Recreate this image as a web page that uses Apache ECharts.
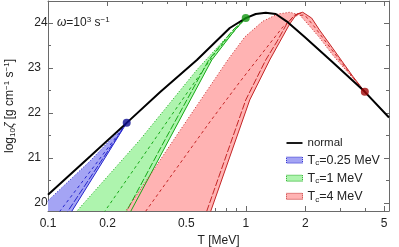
<!DOCTYPE html>
<html><head><meta charset="utf-8">
<script src="https://cdn.jsdelivr.net/npm/echarts@6/dist/echarts.min.js"></script>
<style>html,body{margin:0;padding:0;background:#fff}#c{width:399px;height:247px}</style>
</head><body><div id="c"></div>
<script>
// ---------- axes ----------
const xMin = 0.1, xMax = 5.3;
const yMin = 19.82, yMax = 24.49;
const xLabelTicks = [0.1, 0.2, 0.5, 1, 2, 5];
const xMinorTicks = [0.3, 0.4, 0.6, 0.7, 0.8, 0.9, 3, 4];
const yLabelTicks = [20, 21, 22, 23, 24];
const yMinorTicks = [20.5, 21.5, 22.5, 23.5];

// ---------- normal curve ----------
const normalT = [0.1, 0.163, 0.25, 0.368, 0.566, 0.83, 1.0, 1.123, 1.262, 1.418, 1.63, 1.986, 2.751, 4.0, 5.3];
const normalY = [20.18, 21.03, 21.78, 22.46, 23.18, 23.89, 24.11, 24.20, 24.23, 24.20, 24.02, 23.69, 23.13, 22.47, 21.90];

// ---------- Tc = 0.25 MeV ----------
const blueAT = [0.0911, 0.1, 0.163, 0.25];
const blueAY = [19.87, 20.05, 20.93, 21.78];
const blueBT = [0.1219, 0.1322, 0.1831, 0.25];
const blueBY = [19.58, 19.82, 20.82, 21.78];
const blueMidT = [0.1097, 0.115, 0.1728, 0.25];
const blueMidY = [19.69, 19.82, 20.84, 21.78];
const blueB2T = [0.1205, 0.1262, 0.1831, 0.25];
const blueB2Y = [19.69, 19.82, 20.89, 21.78];

// ---------- Tc = 1 MeV ----------
const greenAT = [0.1292, 0.1401, 0.2914, 0.566, 0.83, 1.0];
const greenAY = [19.63, 19.82, 21.40, 22.96, 23.76, 24.11];
const greenBT = [0.25, 0.2626, 0.4131, 0.6734, 0.8798, 1.0];
const greenBY = [19.62, 19.82, 21.44, 23.18, 23.84, 24.11];
const greenMidT = [0.1831, 0.1941, 0.4229, 0.7056, 1.0];
const greenMidY = [19.67, 19.82, 21.96, 23.36, 24.11];
const greenB2T = [0.242, 0.25, 0.3945, 0.6503, 0.8597, 1.0];
const greenB2Y = [19.69, 19.82, 21.44, 23.18, 23.84, 24.11];

// ---------- Tc = 4 MeV ----------
const redAT = [0.231, 0.2477, 0.4378, 0.8111, 0.9884, 1.219, 1.451, 1.668, 1.874, 2.105, 2.364, 2.751, 3.47, 4.0];
const redAY = [19.62, 19.82, 21.44, 23.18, 23.69, 24.04, 24.20, 24.24, 24.18, 23.93, 23.67, 23.29, 22.78, 22.47];
const redBT = [0.6427, 0.6656, 1.0476, 1.322, 1.485, 1.668, 1.81, 1.941, 2.154, 2.364, 2.751, 3.47, 4.0];
const redBY = [19.62, 19.82, 22.29, 23.18, 23.58, 23.98, 24.20, 24.24, 24.11, 23.84, 23.44, 22.82, 22.47];
const redMidT = [0.3018, 0.3125, 0.6579, 0.9326, 1.247, 1.538, 1.768, 1.986, 2.231, 2.751, 3.47, 4.0];
const redMidY = [19.69, 19.82, 21.80, 22.69, 23.40, 23.91, 24.16, 24.18, 23.91, 23.38, 22.80, 22.47];
const redB2T = [0.6136, 0.6353, 1.0, 1.262, 1.434, 1.611, 1.768, 1.941];
const redB2Y = [19.62, 19.82, 22.29, 23.18, 23.58, 23.98, 24.18, 24.23];

// ---------- matching points ----------
const dotT = [0.25, 1.0, 4.0];
const dotY = [21.78, 24.11, 22.47];

const names = ['normal', 'Tc=0.25 MeV', 'Tc=1 MeV', 'Tc=4 MeV'];
const FONT = 'Liberation Sans';
const AX = '#6a6a6a';
const TXT = '#222';
const C = {
  blue: {fill: '#a4a4f4', line: '#2626cc', dot: '#0c0c92'},
  green: {fill: '#aef4ae', line: '#17a817', dot: '#129612'},
  red: {fill: '#ffb3b3', line: '#c42626', dot: '#a00808'}
};

const pairs = (T, Y) => T.map((t, i) => [t, Y[i]]);

function band(name, AT, AY, BT, BY, fill) {
  const pts = pairs(AT, AY).concat(pairs(BT, BY).reverse());
  return {
    type: 'custom', name, clip: true, z: 1, silent: true,
    data: pts, encode: {x: 0, y: 1},
    itemStyle: {color: fill},
    renderItem(params, api) {
      if (params.dataIndex !== 0) return null;
      return {type: 'polygon', shape: {points: pts.map(p => api.coord(p))}, style: {fill: fill}};
    }
  };
}
function line(name, T, Y, color, type, width, z) {
  return {
    type: 'line', name, data: pairs(T, Y), symbol: 'none', showSymbol: false, silent: true,
    z: z || 2, lineStyle: {color, width: width || 1, type: type || 'solid'}, itemStyle: {color}, clip: true
  };
}

const series = [
  band(names[1], blueAT, blueAY, blueBT, blueBY, C.blue.fill),
  band(names[2], greenAT, greenAY, greenBT, greenBY, C.green.fill),
  band(names[3], redAT, redAY, redBT, redBY, C.red.fill),
  line('bA', blueAT, blueAY, C.blue.line, [1, 2]),
  line('bM', blueMidT, blueMidY, C.blue.line, [3, 3]),
  line('bB2', blueB2T, blueB2Y, C.blue.line, [7, 2]),
  line('bB', blueBT, blueBY, C.blue.line),
  line('gA', greenAT, greenAY, C.green.line, [1, 2]),
  line('gM', greenMidT, greenMidY, C.green.line, [3, 3]),
  line('gB2', greenB2T, greenB2Y, C.green.line, [7, 2]),
  line('gB', greenBT, greenBY, C.green.line),
  line('rA', redAT, redAY, C.red.line, [1, 2]),
  line('rM', redMidT, redMidY, C.red.line, [3, 3]),
  line('rB2', redB2T, redB2Y, C.red.line, [7, 2]),
  line('rB', redBT, redBY, C.red.line),
  line(names[0], normalT, normalY, '#000', 'solid', 2, 3),
  {
    type: 'scatter', name: 'dots', z: 4, silent: true, symbolSize: 8,
    data: dotT.map((t, i) => ({value: [t, dotY[i]], itemStyle: {color: [C.blue.dot, C.green.dot, C.red.dot][i]}}))
  }
];

const fmtX = v => String(+(+v).toPrecision(4));
const common = {splitLine: {show: false}, minorTick: {show: false}, minorSplitLine: {show: false}};
function xAx(pos, ticks, len, labels, lineOn) {
  return Object.assign({
    type: 'log', logBase: 10, min: xMin, max: xMax, position: pos,
    axisLine: {show: lineOn, onZero: false, lineStyle: {color: AX, width: 1}},
    axisTick: {show: true, inside: true, length: len, customValues: ticks, lineStyle: {color: AX}},
    axisLabel: labels ? {show: true, customValues: xLabelTicks, formatter: fmtX, margin: 7, fontSize: 12, color: TXT, fontFamily: FONT,
      alignMinLabel: 'center', alignMaxLabel: 'center', hideOverlap: false} : {show: false}
  }, common);
}
function yAx(pos, ticks, len, labels, lineOn) {
  return Object.assign({
    type: 'value', min: yMin, max: yMax, position: pos,
    axisLine: {show: lineOn, onZero: false, lineStyle: {color: AX, width: 1}},
    axisTick: {show: true, inside: true, length: len, customValues: ticks, lineStyle: {color: AX}},
    axisLabel: labels ? {show: true, customValues: yLabelTicks, formatter: v => String(Math.round(v)), margin: 7, fontSize: 12, color: TXT, fontFamily: FONT,
      alignMinLabel: 'middle', alignMaxLabel: 'middle', verticalAlignMinLabel: 'middle', verticalAlignMaxLabel: 'middle', hideOverlap: false} : {show: false}
  }, common);
}

const xMain = xAx('bottom', xLabelTicks, 5, true, true);
Object.assign(xMain, {name: 'T [MeV]', nameLocation: 'middle', nameGap: 22,
  nameTextStyle: {fontSize: 12, color: TXT, fontFamily: FONT}});
const yMain = yAx('left', yLabelTicks, 5, true, true);
Object.assign(yMain, {
  name: '{a|log}{s|10}{z|ζ}{a| [g cm}{p|−1}{a| s}{p|−1}{a|]}',
  nameLocation: 'middle', nameGap: 31, nameRotate: 90,
  nameTextStyle: {fontSize: 12, color: TXT, fontFamily: FONT, rich: {
    a: {fontSize: 12, lineHeight: 14, fontFamily: FONT, color: TXT},
    z: {fontSize: 12, lineHeight: 14, fontFamily: FONT, color: TXT, fontStyle: 'italic'},
    s: {fontSize: 8, lineHeight: 6, verticalAlign: 'bottom', fontFamily: FONT, color: TXT},
    p: {fontSize: 8, lineHeight: 6, verticalAlign: 'top', fontFamily: FONT, color: TXT}
  }}
});

const option = {
  animation: false,
  backgroundColor: '#fff',
  grid: {left: 48, right: 10, top: 1, bottom: 36, containLabel: false, outerBoundsMode: 'none'},
  title: {
    text: '{w|ω}{a|=10}{p|3}{a| s}{p|−1}', left: 57, top: 16, padding: 0,
    textStyle: {fontWeight: 'normal', fontSize: 12, rich: {
      w: {fontSize: 12, lineHeight: 14, fontFamily: FONT, color: TXT, fontStyle: 'italic', fontWeight: 'normal'},
      a: {fontSize: 12, lineHeight: 14, fontFamily: FONT, color: TXT, fontWeight: 'normal'},
      p: {fontSize: 8, lineHeight: 6, verticalAlign: 'top', fontFamily: FONT, color: TXT, fontWeight: 'normal'}
    }}
  },
  legend: {
    orient: 'vertical', left: 286, top: 137, itemWidth: 16, itemHeight: 6, itemGap: 4.6, padding: 0,
    selectedMode: false,
    data: [
      {name: names[0], icon: 'path://M0,0L0,0M0,6L0,6M0,2.1L16,2.1L16,3.9L0,3.9Z', itemStyle: {color: '#000', borderWidth: 0}},
      {name: names[1], icon: 'rect', itemStyle: {color: C.blue.fill, borderColor: C.blue.line, borderWidth: 1, borderType: 'dotted'}},
      {name: names[2], icon: 'rect', itemStyle: {color: C.green.fill, borderColor: C.green.line, borderWidth: 1, borderType: 'dotted'}},
      {name: names[3], icon: 'rect', itemStyle: {color: C.red.fill, borderColor: C.red.line, borderWidth: 1, borderType: 'dotted'}}
    ],
    formatter: n => n.startsWith('Tc') ? '{t|T}{s|c}{t|' + n.slice(2) + '}' : n,
    textStyle: {fontSize: 11.5, color: TXT, fontFamily: FONT, rich: {
      t: {fontSize: 12.5, lineHeight: 14, fontFamily: FONT, color: TXT},
      s: {fontSize: 8, lineHeight: 6, verticalAlign: 'bottom', fontFamily: FONT, color: TXT}
    }}
  },
  xAxis: [xMain, xAx('bottom', xMinorTicks, 3, false, false), xAx('top', xLabelTicks, 5, false, true), xAx('top', xMinorTicks, 3, false, false)],
  yAxis: [yMain, yAx('left', yMinorTicks, 3, false, false), yAx('right', yLabelTicks, 5, false, true), yAx('right', yMinorTicks, 3, false, false)],
  series: series
};
const chart = echarts.init(document.getElementById('c'), null, {renderer: 'canvas'});
chart.setOption(option);
</script></body></html>
